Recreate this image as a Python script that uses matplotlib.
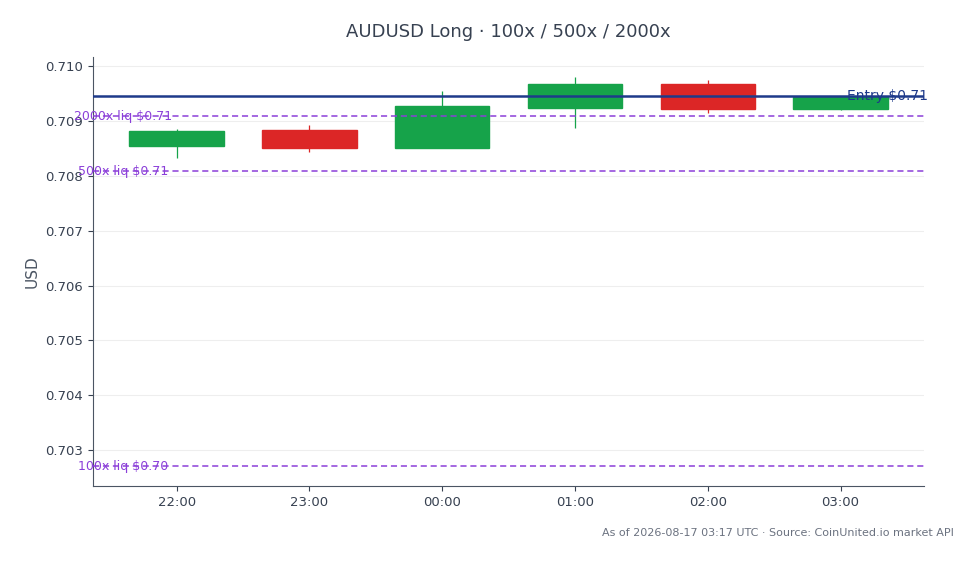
import matplotlib
matplotlib.use("Agg")
import matplotlib.pyplot as plt
from matplotlib.patches import Rectangle

labels = ["22:00", "23:00", "00:00", "01:00", "02:00", "03:00"]
opens  = [0.708541, 0.708833, 0.708505, 0.709234, 0.709672, 0.709216]
closes = [0.708815, 0.708505, 0.709270, 0.709672, 0.709216, 0.709435]
highs  = [0.708850, 0.708920, 0.709540, 0.709800, 0.709740, 0.709440]
lows   = [0.708320, 0.708430, 0.708505, 0.708870, 0.709140, 0.709200]
entry = 0.709453
liqs = [("2000x liq $0.71", 0.709088), ("500x liq $0.71", 0.708086), ("100x liq $0.70", 0.702708)]

fig = plt.figure(figsize=(9.78, 5.64), dpi=100)
ax = fig.add_axes([0.095, 0.138, 0.85, 0.761])
green, red = "#16a34a", "#dc2626"
w = 0.71
for i, (o, c, h, l) in enumerate(zip(opens, closes, highs, lows)):
    col = green if c >= o else red
    ax.vlines(i, l, h, color=col, lw=0.9, zorder=2)
    ax.add_patch(Rectangle((i - w/2, min(o, c)), w, abs(c - o), color=col, zorder=3))

ax.axhline(entry, color="#1e3a8a", lw=1.8, zorder=4)
ax.text(5.66, entry, "Entry $0.71", color="#1e3a8a", fontsize=10, ha="right", va="center", zorder=5)
for name, v in liqs:
    ax.axhline(v, color="#8b3fd9", lw=1.1, ls=(0, (4, 2.5)), zorder=4)
    ax.text(-0.4, v, name, color="#8b3fd9", fontsize=9, ha="center", va="center", zorder=5)

ax.set_xlim(-0.63, 5.63)
ax.set_ylim(0.702344, 0.710164)
ax.set_xticks(range(len(labels)))
ax.set_xticklabels(labels)
ax.set_yticks([0.703, 0.704, 0.705, 0.706, 0.707, 0.708, 0.709, 0.710])
ax.yaxis.set_major_formatter(matplotlib.ticker.FormatStrFormatter("%.3f"))
ax.tick_params(colors="#374151", labelsize=9.5)
ax.grid(axis="y", color="#eeeeee", lw=0.8, zorder=0)
for s in ["top", "right"]:
    ax.spines[s].set_visible(False)
for s in ["left", "bottom"]:
    ax.spines[s].set_color("#4b5563")
ax.set_ylabel("USD", color="#4b5563", fontsize=11)
fig.suptitle("AUDUSD Long · 100x / 500x / 2000x", x=0.52, y=0.96, fontsize=13, color="#374151")
fig.text(0.975, 0.055, "As of 2026-08-17 03:17 UTC · Source: CoinUnited.io market API",
         ha="right", va="center", fontsize=8, color="#6b7280")
fig.savefig("out.png", dpi=100)
